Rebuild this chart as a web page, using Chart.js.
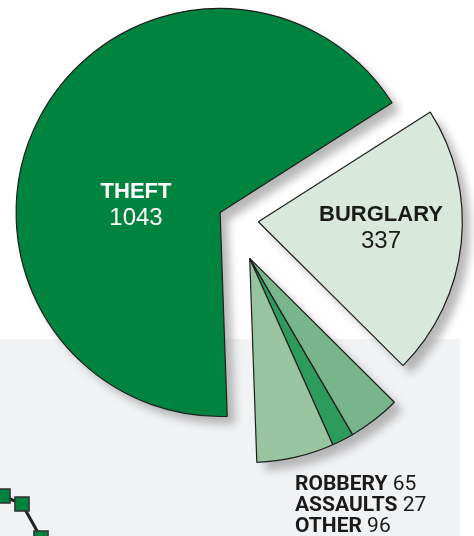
<!DOCTYPE html>
<html lang="en">
<head>
  <meta charset="UTF-8">
  <title>Crimes by type</title>
  <script src="https://cdn.jsdelivr.net/npm/chart.js"></script>
  <style>
    html, body { margin: 0; padding: 0; background: #fff; overflow: hidden; }
    #wrap { position: relative; width: 474px; height: 536px; overflow: hidden; }
    #panel { position: absolute; left: 0; top: 339px; width: 460px; height: 197px; background: #f1f2f4; }
    #trendChart { position: absolute; left: -16px; top: 470px; }
    #shadowBox { position: absolute; left: 8px; top: 8px; width: 474px; height: 536px; opacity: 0.7; filter: blur(4px); }
    #pieBox { position: absolute; left: 0; top: 0; width: 474px; height: 536px; }
  </style>
</head>
<body>
<div id="wrap">
  <div id="panel"></div>
  <canvas id="trendChart" width="76" height="80"></canvas>
  <div id="shadowBox"><canvas id="shadowChart"></canvas></div>
  <div id="pieBox"><canvas id="pieChart"></canvas></div>
</div>

<script>
  // crime counts
  const crimeLabels = ['THEFT', 'BURGLARY', 'ROBBERY', 'ASSAULTS', 'OTHER'];
  const crimeCounts = [1043, 337, 65, 27, 96];
  const crimeColors = ['#00833e', '#d9e8dc', '#79b58b', '#2d9b5c', '#98c5a0'];

  // cropped piece of the line chart below
  const trendX = [1, 2, 3];
  const trendY = [54, 46, 12];

  // pulls slices (or groups of slices) away from the centre along their mid angle
  const explode = {
    id: 'explode',
    afterDatasetUpdate(chart, args, opts) {
      const arcs = args.meta.data;
      opts.groups.forEach(g => {
        const mid = (arcs[g.from].startAngle + arcs[g.to].endAngle) / 2;
        for (let i = g.from; i <= g.to; i++) {
          arcs[i].x += Math.cos(mid) * g.dist;
          arcs[i].y += Math.sin(mid) * g.dist;
        }
      });
    }
  };

  const sliceText = {
    id: 'sliceText',
    afterDraw(chart, args, opts) {
      if (!opts.inside) return;
      const ctx = chart.ctx;
      ctx.save();
      ctx.textBaseline = 'alphabetic';
      // big slices, label inside
      opts.inside.forEach(p => {
        ctx.textAlign = 'center';
        ctx.fillStyle = p.color;
        ctx.font = 'bold 22px "Liberation Sans", Arial, sans-serif';
        ctx.fillText(crimeLabels[p.i], p.x, p.y);
        ctx.font = '24px "Liberation Sans", Arial, sans-serif';
        ctx.fillText(String(crimeCounts[p.i]), p.x, p.y + 27);
      });
      // small slices, stacked list
      ctx.textAlign = 'left';
      ctx.fillStyle = '#1a1a1a';
      opts.list.idx.forEach((i, n) => {
        const y = opts.list.y + n * 21;
        ctx.font = 'bold 21px Roboto, sans-serif';
        ctx.fillText(crimeLabels[i], opts.list.x, y);
        const w = ctx.measureText(crimeLabels[i] + ' ').width;
        ctx.font = '21px Roboto, sans-serif';
        ctx.fillText(String(crimeCounts[i]), opts.list.x + w, y);
      });
      ctx.restore();
    }
  };

  function makePie(id, colors, border, text) {
    return new Chart(document.getElementById(id).getContext('2d'), {
      type: 'pie',
      data: {
        labels: crimeLabels,
        datasets: [{
          data: crimeCounts,
          backgroundColor: colors,
          borderColor: '#1e1e1e',
          borderWidth: border
        }]
      },
      options: {
        responsive: true,
        maintainAspectRatio: false,
        animation: false,
        rotation: 178,
        radius: 204,
        layout: { padding: { left: 0, right: 9, top: 0, bottom: 98 } },
        events: [],
        plugins: {
          legend: { display: false },
          tooltip: { enabled: false },
          explode: {
            groups: [
              { from: 0, to: 0, dist: 14 },
              { from: 1, to: 1, dist: 26 },
              { from: 2, to: 4, dist: 43 }
            ]
          },
          sliceText: text
        }
      },
      plugins: [explode, sliceText]
    });
  }

  // grey copy of the pie, shifted and blurred by CSS, acts as the drop shadow
  makePie('shadowChart', '#9a9a9a', 0, {});

  makePie('pieChart', crimeColors, 1.2, {
    inside: [
      { i: 0, x: 136, y: 198, color: '#ffffff' },
      { i: 1, x: 381, y: 221, color: '#1a1a1a' }
    ],
    list: { idx: [2, 3, 4], x: 295, y: 490 }
  });

  new Chart(document.getElementById('trendChart').getContext('2d'), {
    type: 'line',
    data: {
      labels: trendX,
      datasets: [{
        data: trendX.map((x, i) => ({ x: x, y: trendY[i] })),
        borderColor: '#222',
        borderWidth: 3,
        pointStyle: 'rect',
        pointRadius: 10,
        pointBackgroundColor: '#00833e',
        pointBorderColor: '#333',
        pointBorderWidth: 1.5,
        clip: false
      }]
    },
    options: {
      responsive: false,
      animation: false,
      events: [],
      layout: { padding: 0, autoPadding: false },
      scales: {
        x: { type: 'linear', min: 0, max: 4, display: false },
        y: { min: 0, max: 80, display: false }
      },
      plugins: { legend: { display: false }, tooltip: { enabled: false } }
    }
  });
</script>
</body>
</html>
